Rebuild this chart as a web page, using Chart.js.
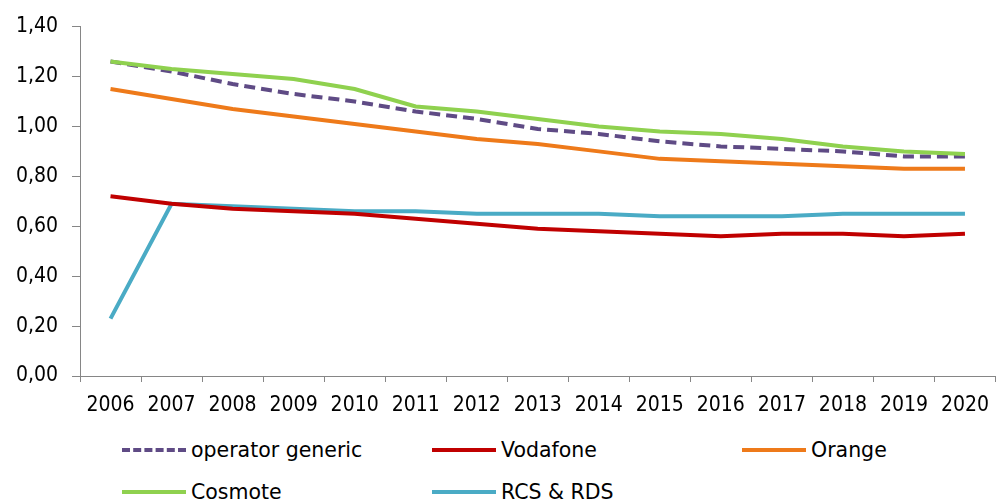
<!DOCTYPE html>
<html>
<head>
<meta charset="utf-8">
<script src="https://cdn.jsdelivr.net/npm/chart.js"></script>
<style>
  body { margin: 0; background: #fff; font-family: "DejaVu Sans", sans-serif; }
  #wrap { position: relative; width: 1000px; height: 502px; overflow: hidden; }
  #box { position: absolute; left: 0; top: 0; width: 1000px; height: 428px; }
  .leg { position: absolute; font-size: 20.5px; color: #000; display: flex; align-items: center; height: 26px; }
  .leg span.ln { display: inline-block; width: 64px; height: 0; border-top: 4px solid; margin-right: 5px; }
</style>
</head>
<body>
<div id="wrap">
  <div id="box"><canvas id="chart"></canvas></div>
  <div id="legend"></div>
</div>
<script>
const years = ['2006','2007','2008','2009','2010','2011','2012','2013','2014','2015','2016','2017','2018','2019','2020'];

const generic  = [1.26, 1.22, 1.17, 1.13, 1.10, 1.06, 1.03, 0.99, 0.97, 0.94, 0.92, 0.91, 0.90, 0.88, 0.88];
const vodafone = [0.72, 0.69, 0.67, 0.66, 0.65, 0.63, 0.61, 0.59, 0.58, 0.57, 0.56, 0.57, 0.57, 0.56, 0.57];
const orange   = [1.15, 1.11, 1.07, 1.04, 1.01, 0.98, 0.95, 0.93, 0.90, 0.87, 0.86, 0.85, 0.84, 0.83, 0.83];
const cosmote  = [1.26, 1.23, 1.21, 1.19, 1.15, 1.08, 1.06, 1.03, 1.00, 0.98, 0.97, 0.95, 0.92, 0.90, 0.89];
const rcs      = [0.23, 0.69, 0.68, 0.67, 0.66, 0.66, 0.65, 0.65, 0.65, 0.64, 0.64, 0.64, 0.65, 0.65, 0.65];

const yTicks = [0, 0.2, 0.4, 0.6, 0.8, 1.0, 1.2, 1.4];

const series = [
  { label: 'operator generic', data: generic,  color: '#5f4b85', dash: [11, 6] },
  { label: 'Vodafone',         data: vodafone, color: '#c00000', dash: [] },
  { label: 'Orange',           data: orange,   color: '#ee7a1a', dash: [] },
  { label: 'Cosmote',          data: cosmote,  color: '#8fd14f', dash: [] },
  { label: 'RCS & RDS',        data: rcs,      color: '#4aabc5', dash: [] }
];

// draw order: lower lines first, like the reference
const drawOrder = [1, 4, 2, 3, 0];

const font = { family: '"DejaVu Sans Condensed", sans-serif', size: 21 };

new Chart(document.getElementById('chart'), {
  type: 'line',
  data: {
    labels: years,
    datasets: series.map((s, i) => ({
      label: s.label,
      data: s.data,
      borderColor: s.color,
      backgroundColor: s.color,
      borderWidth: 4,
      borderDash: s.dash,
      borderCapStyle: 'butt',
      pointRadius: 0,
      tension: 0,
      fill: false,
      order: drawOrder.indexOf(i)
    }))
  },
  options: {
    responsive: true,
    maintainAspectRatio: false,
    animation: false,
    layout: { padding: { top: 24, right: 0, left: 0, bottom: 0 } },
    plugins: { legend: { display: false }, tooltip: { enabled: false } },
    scales: {
      x: {
        offset: true,
        grid: { display: true, drawOnChartArea: false, offset: true, color: '#868686', tickLength: 6 },
        border: { color: '#868686', width: 1 },
        ticks: { font, color: '#000', padding: 11, maxRotation: 0, autoSkip: false },
        afterFit: s => { s.height = 52; }
      },
      y: {
        min: 0, max: 1.4,
        afterBuildTicks: s => { s.ticks = yTicks.map(v => ({ value: v })); },
        grid: { display: true, drawOnChartArea: false, color: '#868686', tickLength: 8 },
        border: { color: '#868686', width: 1 },
        ticks: { font, color: '#000', padding: 14, callback: v => v.toFixed(2).replace('.', ',') },
        afterFit: s => { s.width = 80; }
      }
    }
  }
});

// legend in a 3-column grid below the chart
const legPos = [[122, 437], [432, 437], [742, 437], [122, 479], [432, 479]];
const legend = document.getElementById('legend');
series.forEach((s, i) => {
  const d = document.createElement('div');
  d.className = 'leg';
  d.style.left = legPos[i][0] + 'px';
  d.style.top = legPos[i][1] + 'px';
  const ln = document.createElement('span');
  ln.className = 'ln';
  ln.style.borderTopColor = s.color;
  if (s.dash.length) ln.style.borderTopStyle = 'dashed';
  d.appendChild(ln);
  d.appendChild(document.createTextNode(s.label));
  legend.appendChild(d);
});
</script>
</body>
</html>
